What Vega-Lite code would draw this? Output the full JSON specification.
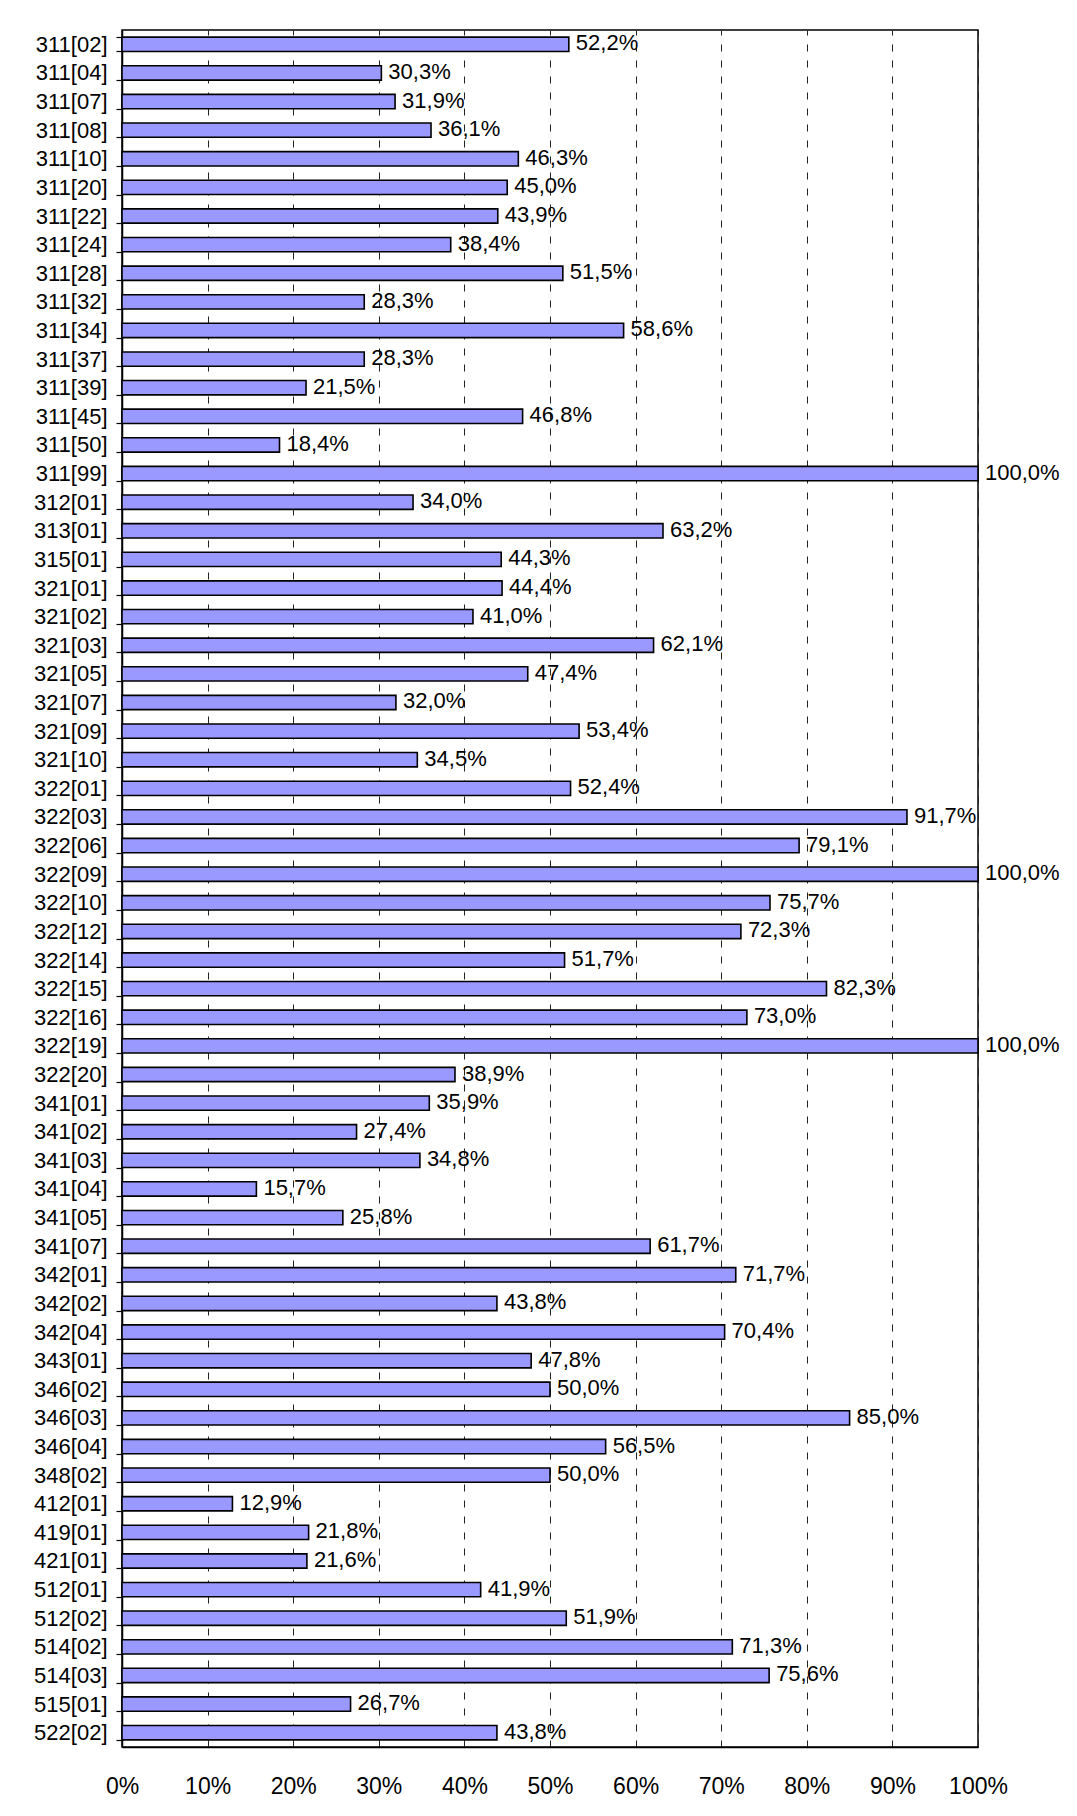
{
  "$schema": "https://vega.github.io/schema/vega-lite/v6.json",
  "autosize": "none",
  "padding": {"left": 122, "top": 30, "right": 99, "bottom": 69},
  "width": 856,
  "height": 1717,
  "background": "white",
  "config": {
    "locale": {"number": {"decimal": ",", "thousands": ".", "grouping": [3], "currency": ["", " €"]}},
    "view": {"stroke": "#000", "strokeWidth": 1.5},
    "font": "Liberation Sans"
  },
  "data": {"values": [
    {"cat": "311[02]", "v": 0.522}, {"cat": "311[04]", "v": 0.303}, {"cat": "311[07]", "v": 0.319},
    {"cat": "311[08]", "v": 0.361}, {"cat": "311[10]", "v": 0.463}, {"cat": "311[20]", "v": 0.450},
    {"cat": "311[22]", "v": 0.439}, {"cat": "311[24]", "v": 0.384}, {"cat": "311[28]", "v": 0.515},
    {"cat": "311[32]", "v": 0.283}, {"cat": "311[34]", "v": 0.586}, {"cat": "311[37]", "v": 0.283},
    {"cat": "311[39]", "v": 0.215}, {"cat": "311[45]", "v": 0.468}, {"cat": "311[50]", "v": 0.184},
    {"cat": "311[99]", "v": 1.000}, {"cat": "312[01]", "v": 0.340}, {"cat": "313[01]", "v": 0.632},
    {"cat": "315[01]", "v": 0.443}, {"cat": "321[01]", "v": 0.444}, {"cat": "321[02]", "v": 0.410},
    {"cat": "321[03]", "v": 0.621}, {"cat": "321[05]", "v": 0.474}, {"cat": "321[07]", "v": 0.320},
    {"cat": "321[09]", "v": 0.534}, {"cat": "321[10]", "v": 0.345}, {"cat": "322[01]", "v": 0.524},
    {"cat": "322[03]", "v": 0.917}, {"cat": "322[06]", "v": 0.791}, {"cat": "322[09]", "v": 1.000},
    {"cat": "322[10]", "v": 0.757}, {"cat": "322[12]", "v": 0.723}, {"cat": "322[14]", "v": 0.517},
    {"cat": "322[15]", "v": 0.823}, {"cat": "322[16]", "v": 0.730}, {"cat": "322[19]", "v": 1.000},
    {"cat": "322[20]", "v": 0.389}, {"cat": "341[01]", "v": 0.359}, {"cat": "341[02]", "v": 0.274},
    {"cat": "341[03]", "v": 0.348}, {"cat": "341[04]", "v": 0.157}, {"cat": "341[05]", "v": 0.258},
    {"cat": "341[07]", "v": 0.617}, {"cat": "342[01]", "v": 0.717}, {"cat": "342[02]", "v": 0.438},
    {"cat": "342[04]", "v": 0.704}, {"cat": "343[01]", "v": 0.478}, {"cat": "346[02]", "v": 0.500},
    {"cat": "346[03]", "v": 0.850}, {"cat": "346[04]", "v": 0.565}, {"cat": "348[02]", "v": 0.500},
    {"cat": "412[01]", "v": 0.129}, {"cat": "419[01]", "v": 0.218}, {"cat": "421[01]", "v": 0.216},
    {"cat": "512[01]", "v": 0.419}, {"cat": "512[02]", "v": 0.519}, {"cat": "514[02]", "v": 0.713},
    {"cat": "514[03]", "v": 0.756}, {"cat": "515[01]", "v": 0.267}, {"cat": "522[02]", "v": 0.438}
  ]},
  "encoding": {
    "y": {
      "field": "cat", "type": "nominal", "sort": null,
      "scale": {"paddingInner": 0.5, "paddingOuter": 0.25},
      "axis": {
        "title": null, "domainColor": "#000", "domainWidth": 1.5,
        "tickColor": "#000", "tickSize": 6, "tickWidth": 1.2, "tickBand": "extent",
        "labelFontSize": 22, "labelColor": "#000", "labelPadding": 9, "labelFont": "Liberation Sans"
      }
    },
    "x": {
      "field": "v", "type": "quantitative",
      "scale": {"domain": [0, 1], "nice": false},
      "axis": {
        "title": null, "format": ".0%", "values": [0, 0.1, 0.2, 0.3, 0.4, 0.5, 0.6, 0.7, 0.8, 0.9, 1],
        "domainColor": "#000", "domainWidth": 1.5, "ticks": false,
        "labelFlush": false, "labelOverlap": false, "labelBound": false,
        "labelFontSize": 23, "labelColor": "#000", "labelPadding": 28, "labelFont": "Liberation Sans",
        "grid": true, "gridColor": "#222", "gridWidth": 1, "gridDash": [7, 9]
      }
    }
  },
  "layer": [
    {
      "mark": {"type": "bar", "fill": "#9999FF", "stroke": "#000", "strokeWidth": 1.6}
    },
    {
      "mark": {"type": "text", "align": "left", "baseline": "middle", "dx": 7, "dy": -1, "fontSize": 22, "font": "Liberation Sans", "color": "#000"},
      "encoding": {"text": {"field": "v", "type": "quantitative", "format": ".1%"}}
    }
  ]
}
